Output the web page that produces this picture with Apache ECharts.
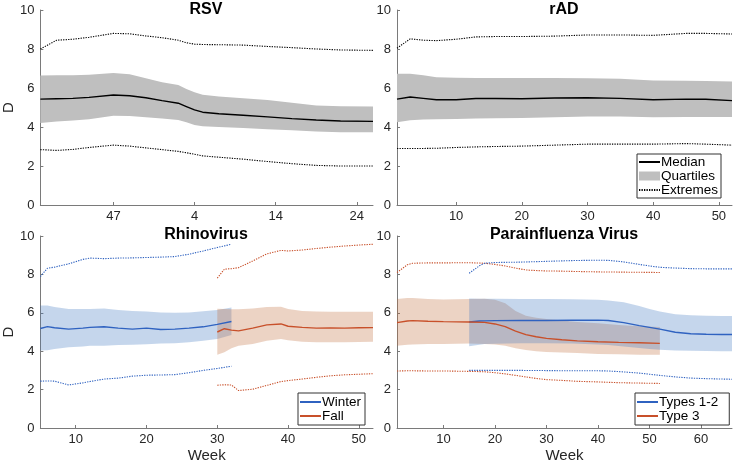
<!DOCTYPE html>
<html><head><meta charset="utf-8">
<script src="https://cdn.jsdelivr.net/npm/echarts@6/dist/echarts.min.js"></script>
<style>html,body{margin:0;padding:0;background:#fff}#c{width:733px;height:464px}</style>
</head><body><div id="c"></div>
<script>
// ---------- DATA ----------
// Panel 1: RSV (continuous week index; labels wrap after week 53)
const rsvWeeks = [38,40,42,44,47,49,51,53,55,56,57,58,60,63,66,69,72,75,79];
const rsvMed   = [5.43,5.45,5.47,5.52,5.64,5.60,5.50,5.35,5.22,5.05,4.88,4.76,4.68,4.60,4.52,4.43,4.36,4.31,4.29];
const rsvQ3    = [6.64,6.65,6.66,6.68,6.77,6.70,6.50,6.30,6.15,5.95,5.78,5.66,5.56,5.48,5.38,5.24,5.10,5.06,5.05];
const rsvQ1    = [4.20,4.28,4.33,4.40,4.58,4.56,4.50,4.43,4.36,4.25,4.10,4.04,4.00,3.95,3.88,3.83,3.77,3.73,3.73];
const rsvMax   = [8.00,8.45,8.50,8.60,8.80,8.78,8.67,8.58,8.45,8.32,8.25,8.23,8.22,8.20,8.13,8.07,8.00,7.95,7.93];
const rsvMin   = [2.84,2.80,2.85,2.95,3.07,3.02,2.93,2.84,2.75,2.68,2.60,2.52,2.45,2.35,2.23,2.12,2.03,2.00,2.00];
const rsvTicks = [47,57,67,77];

// Panel 2: rAD
const radWeeks = [1,3,5,7,10,13,16,20,25,30,35,40,45,48,52];
const radMed   = [5.43,5.54,5.47,5.40,5.40,5.46,5.46,5.45,5.49,5.50,5.47,5.40,5.43,5.42,5.35];
const radQ3    = [6.73,6.73,6.65,6.55,6.52,6.51,6.51,6.51,6.51,6.50,6.47,6.39,6.37,6.36,6.33];
const radQ1    = [4.25,4.34,4.38,4.40,4.41,4.43,4.45,4.46,4.50,4.54,4.54,4.50,4.51,4.51,4.51];
const radMax   = [8.04,8.52,8.45,8.43,8.50,8.62,8.64,8.64,8.66,8.72,8.72,8.70,8.80,8.80,8.77];
const radMin   = [2.90,2.90,2.90,2.91,2.95,2.98,3.00,3.02,3.07,3.12,3.12,3.12,3.15,3.12,3.07];
const radTicks = [10,20,30,40,50];

// Panel 3: Rhinovirus
const winWeeks = [5,6,7,9,11,12,14,16,18,20,22,24,26,28,30,32];
const winMed   = [5.18,5.28,5.22,5.15,5.20,5.24,5.27,5.20,5.15,5.20,5.13,5.15,5.20,5.27,5.40,5.55];
const winQ3    = [6.38,6.38,6.30,6.20,6.20,6.20,6.22,6.15,6.10,6.07,6.02,6.00,6.02,6.08,6.15,6.27];
const winQ1    = [4.03,4.05,4.11,4.20,4.25,4.28,4.29,4.32,4.34,4.36,4.40,4.42,4.47,4.55,4.63,4.84];
const winMax   = [7.89,8.32,8.38,8.55,8.78,8.85,8.82,8.85,8.86,8.88,8.90,8.93,9.05,9.22,9.40,9.57];
const winMin   = [2.44,2.45,2.44,2.24,2.35,2.42,2.55,2.60,2.70,2.75,2.76,2.78,2.88,3.00,3.10,3.22];
const fallWeeks = [30,31,32,33,35,37,39,40,42,44,46,48,50,52];
const fallMed   = [5.00,5.17,5.10,5.06,5.20,5.37,5.42,5.30,5.24,5.20,5.21,5.20,5.22,5.23];
const fallQ3    = [6.21,6.20,6.19,6.18,6.22,6.30,6.31,6.20,6.09,6.07,6.06,6.06,6.06,6.06];
const fallQ1    = [3.81,3.95,4.15,4.28,4.38,4.55,4.63,4.57,4.49,4.47,4.46,4.47,4.48,4.49];
const fallMax   = [7.81,8.27,8.30,8.35,8.70,9.07,9.25,9.22,9.27,9.35,9.42,9.48,9.53,9.57];
const fallMin   = [2.23,2.25,2.24,1.95,2.02,2.22,2.42,2.47,2.55,2.64,2.72,2.77,2.80,2.83];
const rhinoTicks = [10,20,30,40,50];

// Panel 4: Parainfluenza Virus
const t3Weeks = [1,3,4,7,10,15,18,20,22,24,26,28,30,33,36,40,44,48,52];
const t3Med   = [5.49,5.57,5.59,5.56,5.54,5.52,5.50,5.42,5.28,5.05,4.86,4.75,4.67,4.60,4.54,4.49,4.46,4.44,4.41];
const t3Q3    = [6.72,6.77,6.77,6.72,6.69,6.72,6.73,6.68,6.50,6.10,5.85,5.74,5.68,5.60,5.52,5.45,5.37,5.30,5.26];
const t3Q1    = [4.29,4.33,4.35,4.37,4.38,4.40,4.38,4.35,4.28,4.15,4.06,4.00,3.96,3.93,3.90,3.86,3.84,3.82,3.81];
const t3Max   = [8.10,8.50,8.58,8.60,8.60,8.61,8.58,8.52,8.44,8.33,8.23,8.20,8.18,8.17,8.15,8.13,8.12,8.11,8.10];
const t3Min   = [2.97,2.98,2.98,2.97,2.97,2.95,2.93,2.88,2.82,2.74,2.66,2.58,2.52,2.48,2.43,2.40,2.36,2.34,2.32];
const t12Weeks = [15,17,18,20,25,30,35,40,42,45,48,50,52,55,58,61,64,66];
const t12Med   = [5.52,5.57,5.58,5.59,5.60,5.60,5.61,5.62,5.60,5.49,5.33,5.24,5.15,4.99,4.91,4.88,4.87,4.87];
const t12Q3    = [6.74,6.73,6.73,6.73,6.72,6.72,6.71,6.68,6.64,6.55,6.35,6.20,6.07,5.93,5.87,5.84,5.83,5.83];
const t12Q1    = [4.26,4.33,4.37,4.39,4.42,4.42,4.40,4.35,4.32,4.25,4.17,4.12,4.08,4.04,4.02,4.01,4.00,4.00];
const t12Max   = [8.06,8.45,8.58,8.62,8.64,8.68,8.72,8.74,8.73,8.65,8.52,8.44,8.37,8.33,8.30,8.29,8.29,8.29];
const t12Min   = [3.00,3.00,3.00,3.00,3.00,2.99,2.98,2.98,2.97,2.92,2.86,2.80,2.74,2.66,2.60,2.57,2.55,2.54];
const paraTicks = [10,20,30,40,50,60];

const yTicks = [0,2,4,6,8,10];

// ---------- STYLE ----------
const FONT = "'Liberation Sans', Arial, Helvetica, sans-serif";
const AX = '#7a7a7a', TXT = '#262626';
const BLUE = '#2f62c0', ORANGE = '#c8502a';
const BLUE_F = 'rgba(62,118,192,0.30)', ORANGE_F = 'rgba(192,108,58,0.30)';
const GREY_F = 'rgb(191,191,191)';

const grids = [
  {left:39, top:10, width:334, height:195},
  {left:397, top:10, width:335, height:195},
  {left:39, top:236, width:334, height:194},
  {left:397, top:236, width:335, height:194}
];

function xAxis(i, min, max, ticks, fmt, name) {
  return {
    type:'value', gridIndex:i, min, max,
    name: name || '', nameLocation:'middle', nameGap:20,
    nameTextStyle:{fontFamily:FONT, fontSize:15, color:TXT},
    axisLine:{show:true, onZero:false, lineStyle:{color:AX, width:1}},
    axisTick:{show:true, inside:true, length:3, customValues:ticks, lineStyle:{color:AX}},
    axisLabel:{show:true, customValues:ticks, margin:5, fontFamily:FONT, fontSize:13, color:TXT,
      formatter: fmt || (v => String(v))},
    splitLine:{show:false}
  };
}
function yAxis(i, name) {
  return {
    type:'value', gridIndex:i, min:0, max:10,
    name: name || '', nameLocation:'middle', nameGap:22, nameRotate:90,
    nameTextStyle:{fontFamily:FONT, fontSize:15, color:TXT},
    axisLine:{show:true, onZero:false, lineStyle:{color:AX, width:1}},
    axisTick:{show:true, inside:true, length:3, customValues:yTicks, lineStyle:{color:AX}},
    axisLabel:{show:true, customValues:yTicks, margin:6, fontFamily:FONT, fontSize:13, color:TXT},
    splitLine:{show:false}
  };
}

function line(name, gi, xs, ys, color, type, width, z) {
  return {
    type:'line', name, xAxisIndex:gi, yAxisIndex:gi,
    data: xs.map((x,k)=>[x, ys[k]]),
    showSymbol:false, symbol:'none', silent:true, z: z||3,
    lineStyle:{color, width: width||1.4, type: type||'solid'},
    itemStyle:{color},
    animation:false
  };
}
function band(name, gi, xs, lo, hi, fill, z) {
  return {
    type:'custom', name, xAxisIndex:gi, yAxisIndex:gi, z: z||2, silent:true, animation:false,
    itemStyle:{color:fill},
    data: xs.map((x,k)=>[x, lo[k], hi[k]]),
    encode:{x:0, y:[1,2]},
    renderItem: function(params, api) {
      if (params.dataIndex !== 0) return null;
      const pts = [];
      for (let k=0;k<xs.length;k++) pts.push(api.coord([xs[k], hi[k]]));
      for (let k=xs.length-1;k>=0;k--) pts.push(api.coord([xs[k], lo[k]]));
      return {type:'polygon', shape:{points:pts}, style:{fill:fill, stroke:null}};
    }
  };
}
const DOT = [1.3,1.2];
const DW = 1.1;

const series = [
  // RSV
  band('Quartiles', 0, rsvWeeks, rsvQ1, rsvQ3, GREY_F),
  line('Median', 0, rsvWeeks, rsvMed, '#000', 'solid', 1.4),
  line('Extremes', 0, rsvWeeks, rsvMax, '#000', DOT, DW),
  line('Extremes', 0, rsvWeeks, rsvMin, '#000', DOT, DW),
  // rAD
  band('Quartiles', 1, radWeeks, radQ1, radQ3, GREY_F),
  line('Median', 1, radWeeks, radMed, '#000', 'solid', 1.4),
  line('Extremes', 1, radWeeks, radMax, '#000', DOT, DW),
  line('Extremes', 1, radWeeks, radMin, '#000', DOT, DW),
  // Rhinovirus
  line('Winter', 2, winWeeks, winMed, BLUE, 'solid', 1.4, 4),
  line('Fall', 2, fallWeeks, fallMed, ORANGE, 'solid', 1.4, 4),
  band('Winter quartiles', 2, winWeeks, winQ1, winQ3, BLUE_F, 2),
  band('Fall quartiles', 2, fallWeeks, fallQ1, fallQ3, ORANGE_F, 2),
  line('Winter max', 2, winWeeks, winMax, BLUE, DOT, DW),
  line('Winter min', 2, winWeeks, winMin, BLUE, DOT, DW),
  line('Fall max', 2, fallWeeks, fallMax, ORANGE, DOT, DW),
  line('Fall min', 2, fallWeeks, fallMin, ORANGE, DOT, DW),
  // Parainfluenza
  line('Types 1-2', 3, t12Weeks, t12Med, BLUE, 'solid', 1.4, 4),
  line('Type 3', 3, t3Weeks, t3Med, ORANGE, 'solid', 1.4, 4),
  band('Type 3 quartiles', 3, t3Weeks, t3Q1, t3Q3, ORANGE_F, 2),
  band('Types 1-2 quartiles', 3, t12Weeks, t12Q1, t12Q3, BLUE_F, 2),
  line('Type 3 max', 3, t3Weeks, t3Max, ORANGE, DOT, DW),
  line('Type 3 min', 3, t3Weeks, t3Min, ORANGE, DOT, DW),
  line('Types 1-2 max', 3, t12Weeks, t12Max, BLUE, DOT, DW),
  line('Types 1-2 min', 3, t12Weeks, t12Min, BLUE, DOT, DW)
];

const noSym = {color:'rgba(0,0,0,0)', borderColor:'rgba(0,0,0,0)', borderWidth:0, opacity:0};
const legendBase = {
  orient:'vertical', itemGap:0, itemWidth:21, itemHeight:9, selectedMode:false,
  borderColor:'#333', borderWidth:1, backgroundColor:'#fff', borderRadius:0,
  textStyle:{fontFamily:FONT, fontSize:13.5, color:'#000', lineHeight:12.3, padding:[0,0,0,-4]}
};
const lineItem = n => ({name:n, itemStyle:noSym});

const option = {
  animation:false,
  backgroundColor:'#fff',
  title: [
    {text:'RSV', left:206, top:2},
    {text:'rAD', left:564, top:2},
    {text:'Rhinovirus', left:206, top:227},
    {text:'Parainfluenza Virus', left:564, top:227}
  ].map(t => Object.assign(t, {textAlign:'center', padding:0,
      textStyle:{fontFamily:FONT, fontSize:16, fontWeight:'bold', color:'#000'}})),
  grid: grids,
  xAxis: [
    xAxis(0, 38, 79, rsvTicks, v => String(v > 53 ? v - 53 : v)),
    xAxis(1, 1, 52, radTicks),
    xAxis(2, 5, 52, rhinoTicks, null, 'Week'),
    xAxis(3, 1, 66, paraTicks, null, 'Week')
  ],
  yAxis: [yAxis(0,'D'), yAxis(1), yAxis(2,'D'), yAxis(3)],
  legend: [
    Object.assign({}, legendBase, {left:637, top:154, padding:[1,3,1,1],
      data:[lineItem('Median'), {name:'Quartiles', icon:'rect'}, lineItem('Extremes')]}),
    Object.assign({}, legendBase, {left:298, top:393, padding:[2,4,2,1],
      data:[lineItem('Winter'), lineItem('Fall')]}),
    Object.assign({}, legendBase, {left:635, top:393, padding:[2,11,2,1],
      data:[lineItem('Types 1-2'), lineItem('Type 3')]})
  ],
  series
};

const chart = echarts.init(document.getElementById('c'), null, {renderer:'canvas'});
chart.setOption(option);
</script>
</body></html>
